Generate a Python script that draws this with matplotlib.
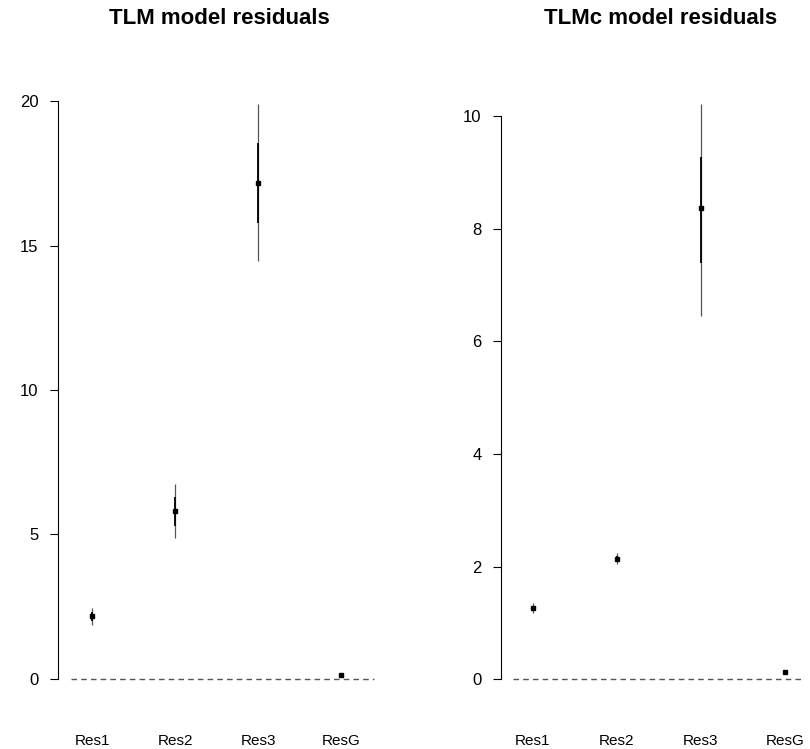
import numpy as np
import matplotlib.pyplot as plt

plt.rcParams['font.family'] = ['Liberation Sans', 'DejaVu Sans']

# residual estimates
labels = ['Res1', 'Res2', 'Res3', 'ResG']

tlm_mean = [2.18, 5.81, 17.16, 0.12]
tlm_lo_outer = [1.87, 4.88, 14.46, 0.07]
tlm_hi_outer = [2.46, 6.75, 19.90, 0.17]
tlm_lo_inner = [2.02, 5.30, 15.78, 0.10]
tlm_hi_inner = [2.32, 6.30, 18.55, 0.14]

tlmc_mean = [1.26, 2.14, 8.37, 0.12]
tlmc_lo_outer = [1.18, 2.04, 6.45, 0.09]
tlmc_hi_outer = [1.35, 2.24, 10.21, 0.15]
tlmc_lo_inner = [1.22, 2.10, 7.39, 0.11]
tlmc_hi_inner = [1.30, 2.18, 9.27, 0.13]

W, H = 810, 749
fig = plt.figure(figsize=(W / 100, H / 100), dpi=100)


def panel(rect, title, mean, lo_o, hi_o, lo_i, hi_i, xlim, ylim, yticks, title_x):
    ax = fig.add_axes(rect)
    x = np.arange(1, len(labels) + 1)
    ax.vlines(x, lo_o, hi_o, color='#555555', lw=0.9)
    ax.vlines(x, lo_i, hi_i, color='black', lw=1.3)
    ax.plot(x, mean, 's', color='black', ms=3.5)
    ax.axhline(0, xmin=0.04, xmax=0.98, color='#555555', lw=1, ls=(0, (4, 3)))
    ax.set_xlim(*xlim)
    ax.set_ylim(*ylim)
    ax.set_yticks(yticks)
    ax.set_xticks([])
    # category names sit well below the plot, as in base R
    for xi, lab in zip(x, labels):
        ax.text(xi, -41 / rect_h_px(rect), lab, transform=ax.get_xaxis_transform(),
                ha='center', va='center', fontsize=11)
    for s in ['top', 'right', 'bottom']:
        ax.spines[s].set_visible(False)
    ax.spines['left'].set_bounds(yticks[0], yticks[-1])
    ax.tick_params(axis='y', labelsize=12, length=6, width=0.8, pad=8)
    fig.text(title_x, 1 - 19 / H, title, ha='center', va='center',
             fontsize=16, fontweight='bold')
    return ax


def rect_h_px(rect):
    return rect[3] * H


# left panel: axis at x=58 px, plot area y from 80 to 700 px
panel([58 / W, 1 - 700 / H, (380 - 58) / W, 620 / H],
      'TLM model residuals', tlm_mean, tlm_lo_outer, tlm_hi_outer,
      tlm_lo_inner, tlm_hi_inner, (0.59, 4.47), (-0.73, 20.73),
      [0, 5, 10, 15, 20], 219 / W)

panel([501 / W, 1 - 700 / H, (810 - 501) / W, 620 / H],
      'TLMc model residuals', tlmc_mean, tlmc_lo_outer, tlmc_hi_outer,
      tlmc_lo_inner, tlmc_hi_inner, (0.62, 4.3), (-0.37, 10.64),
      [0, 2, 4, 6, 8, 10], 661 / W)

plt.savefig('out.png', dpi=100)
